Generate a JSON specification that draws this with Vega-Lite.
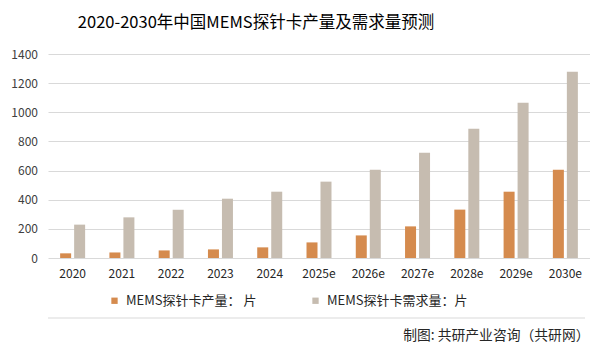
{
  "$schema": "https://vega.github.io/schema/vega-lite/v6.json",
  "background": "white",
  "padding": {"left": 10, "top": 14, "right": 0, "bottom": 0},
  "title": {
    "text": "2020-2030年中国MEMS探针卡产量及需求量预测",
    "font": "Noto Sans CJK SC",
    "fontSize": 16.5,
    "fontWeight": "normal",
    "color": "#000000",
    "anchor": "start",
    "dx": 67,
    "offset": 17
  },
  "columns": 1,
  "align": "none",
  "spacing": 38,
  "concat": [
    {
      "width": 542,
      "height": 204,
      "data": {
        "values": [
          {"year": "2020", "series": "MEMS探针卡产量： 片", "value": 32},
          {"year": "2021", "series": "MEMS探针卡产量： 片", "value": 38},
          {"year": "2022", "series": "MEMS探针卡产量： 片", "value": 52},
          {"year": "2023", "series": "MEMS探针卡产量： 片", "value": 59},
          {"year": "2024", "series": "MEMS探针卡产量： 片", "value": 73},
          {"year": "2025e", "series": "MEMS探针卡产量： 片", "value": 107},
          {"year": "2026e", "series": "MEMS探针卡产量： 片", "value": 155},
          {"year": "2027e", "series": "MEMS探针卡产量： 片", "value": 217},
          {"year": "2028e", "series": "MEMS探针卡产量： 片", "value": 332},
          {"year": "2029e", "series": "MEMS探针卡产量： 片", "value": 455},
          {"year": "2030e", "series": "MEMS探针卡产量： 片", "value": 606},
          {"year": "2020", "series": "MEMS探针卡需求量：片", "value": 229},
          {"year": "2021", "series": "MEMS探针卡需求量：片", "value": 279},
          {"year": "2022", "series": "MEMS探针卡需求量：片", "value": 331},
          {"year": "2023", "series": "MEMS探针卡需求量：片", "value": 407},
          {"year": "2024", "series": "MEMS探针卡需求量：片", "value": 455},
          {"year": "2025e", "series": "MEMS探针卡需求量：片", "value": 524},
          {"year": "2026e", "series": "MEMS探针卡需求量：片", "value": 606},
          {"year": "2027e", "series": "MEMS探针卡需求量：片", "value": 723},
          {"year": "2028e", "series": "MEMS探针卡需求量：片", "value": 887},
          {"year": "2029e", "series": "MEMS探针卡需求量：片", "value": 1066},
          {"year": "2030e", "series": "MEMS探针卡需求量：片", "value": 1279}
        ]
      },
      "mark": {"type": "bar"},
      "encoding": {
        "x": {
          "field": "year",
          "type": "nominal",
          "sort": null,
          "scale": {"paddingInner": 0, "paddingOuter": 0},
          "axis": {
            "title": null,
            "labelAngle": 0,
            "domain": false,
            "ticks": false,
            "labelFont": "Noto Sans CJK SC",
            "labelFontSize": 12,
            "labelColor": "#262626",
            "labelPadding": 10
          }
        },
        "xOffset": {
          "field": "series",
          "sort": ["MEMS探针卡产量： 片", "MEMS探针卡需求量：片"],
          "scale": {"paddingInner": 0.214, "paddingOuter": 0.867}
        },
        "y": {
          "field": "value",
          "type": "quantitative",
          "scale": {"domain": [0, 1400], "nice": false},
          "axis": {
            "title": null,
            "values": [0, 200, 400, 600, 800, 1000, 1200, 1400],
            "format": "d",
            "domain": false,
            "ticks": false,
            "grid": true,
            "gridColor": "#d9d9d9",
            "gridWidth": 1,
            "labelFont": "Noto Sans CJK SC",
            "labelFontSize": 12,
            "labelColor": "#404040",
            "labelPadding": 10.5
          }
        },
        "color": {
          "field": "series",
          "type": "nominal",
          "sort": ["MEMS探针卡产量： 片", "MEMS探针卡需求量：片"],
          "scale": {
            "domain": ["MEMS探针卡产量： 片", "MEMS探针卡需求量：片"],
            "range": ["#D58B4E", "#C6BCB0"]
          },
          "legend": {
            "title": null,
            "orient": "none",
            "legendX": 60,
            "legendY": 240,
            "direction": "horizontal",
            "symbolType": "square",
            "symbolSize": 40,
            "symbolStrokeWidth": 0,
            "labelFont": "Noto Sans CJK SC",
            "labelFontSize": 13,
            "labelColor": "#262626",
            "labelOffset": 5,
            "columnPadding": 52,
            "labelLimit": 300
          }
        }
      }
    },
    {
      "width": 537,
      "height": 1,
      "data": {"values": [{"v": 1}]},
      "mark": {"type": "rule", "color": "#d9d9d9", "strokeWidth": 1},
      "encoding": {
        "y": {
          "field": "v",
          "type": "quantitative",
          "scale": {"domain": [0, 1]},
          "axis": null
        }
      },
      "title": {
        "text": "制图: 共研产业咨询（共研网）",
        "orient": "bottom",
        "anchor": "end",
        "font": "Noto Sans CJK SC",
        "fontSize": 13.8,
        "fontWeight": "normal",
        "color": "#262626",
        "offset": 10,
        "dx": 4
      }
    }
  ],
  "config": {
    "view": {"stroke": null},
    "font": "Noto Sans CJK SC"
  }
}
